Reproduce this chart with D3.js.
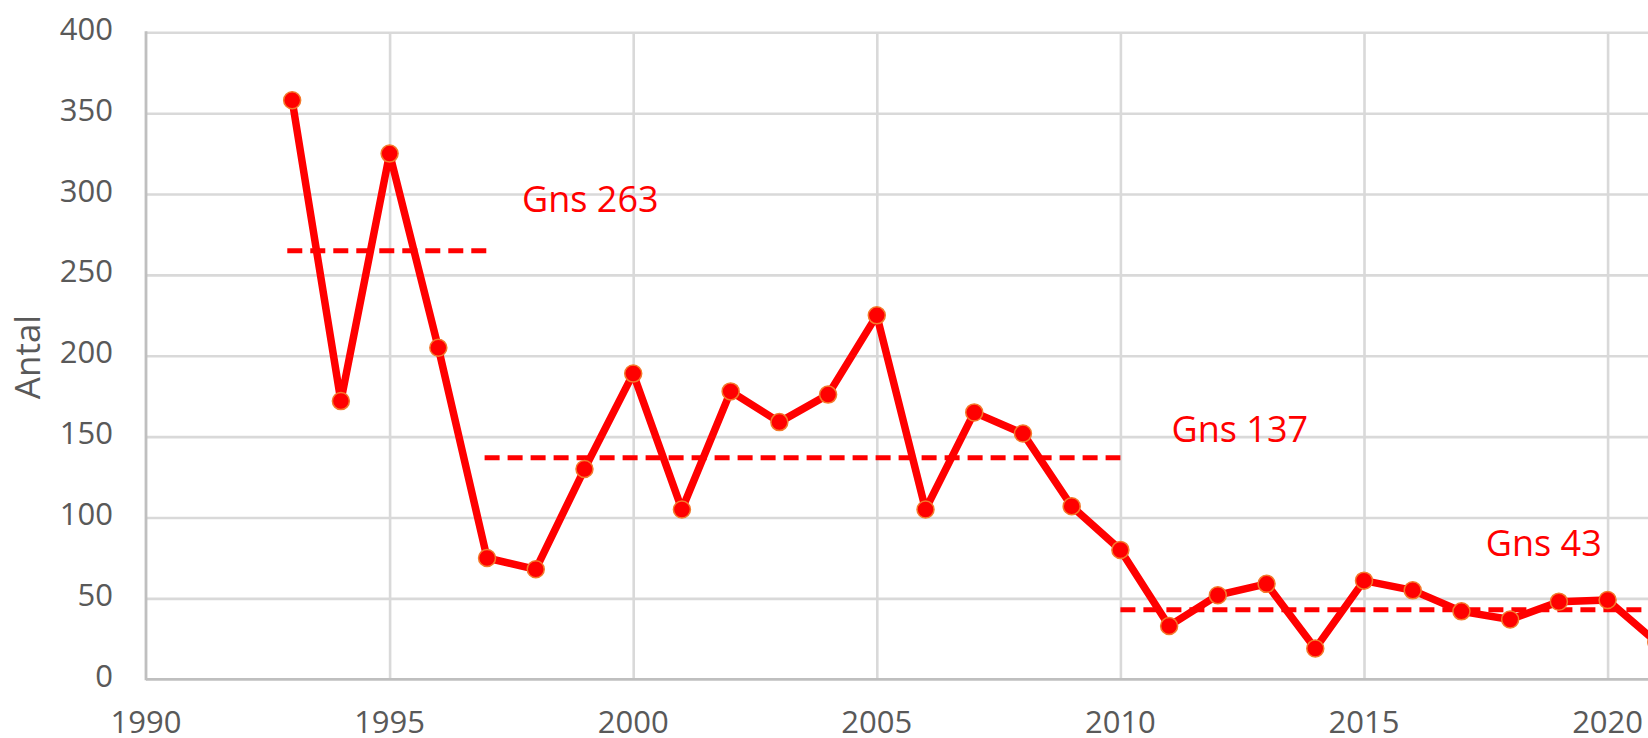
<!DOCTYPE html>
<html>
<head>
<meta charset="utf-8">
<script src="https://cdn.jsdelivr.net/npm/d3@7"></script>
<style>
  body { margin: 0; background: #fff; }
  svg { display: block; font-family: "Open Sans", sans-serif; }
</style>
</head>
<body>
<div id="chart"></div>
<script>
// values
var years = [1993, 1994, 1995, 1996, 1997, 1998, 1999, 2000, 2001, 2002, 2003, 2004, 2005, 2006,
  2007, 2008, 2009, 2010, 2011, 2012, 2013, 2014, 2015, 2016, 2017, 2018, 2019, 2020, 2021];
var antal = [358, 172, 325, 205, 75, 68, 130, 189, 105, 178, 159, 176, 225, 105,
  165, 152, 107, 80, 33, 52, 59, 19, 61, 55, 42, 37, 48, 49, 23];

// averages per period
var meanFrom = [1992.9, 1996.95, 2010];
var meanTo = [1997, 2010, 2025];
var meanValue = [265, 137, 43];
var meanText = ["Gns 263", "Gns 137", "Gns 43"];
// where the average labels sit (year, value of baseline)
var meanLabelYear = [1997.72, 2011.05, 2017.5];
var meanLabelValue = [289, 147, 76];

var xTicks = [1990, 1995, 2000, 2005, 2010, 2015, 2020, 2025];
var yTicks = [0, 50, 100, 150, 200, 250, 300, 350, 400];

const width = 1648, height = 738;
const plotLeft = 146, plotTop = 32.3, plotBottom = 679.3;
const perYear = 48.72;

const x = d3.scaleLinear().domain([1990, 2025]).range([plotLeft, plotLeft + 35 * perYear]);
const y = d3.scaleLinear().domain([0, 400]).range([plotBottom, plotTop]);

const svg = d3.select('#chart').append('svg')
  .attr('width', width)
  .attr('height', height);

// horizontal grid
svg.append('g')
  .attr('transform', `translate(${plotLeft},0)`)
  .call(d3.axisLeft(y).tickValues(yTicks.slice(1)).tickSize(-(x(2025) - plotLeft)).tickFormat(''))
  .call(g => g.select('.domain').remove())
  .selectAll('line').attr('stroke', '#d9d9d9').attr('stroke-width', 2.6);

// vertical grid
svg.append('g')
  .attr('transform', `translate(0,${plotBottom})`)
  .call(d3.axisBottom(x).tickValues(xTicks.slice(1)).tickSize(-(plotBottom - plotTop)).tickFormat(''))
  .call(g => g.select('.domain').remove())
  .selectAll('line').attr('stroke', '#d9d9d9').attr('stroke-width', 2.6);

// axis lines
svg.append('line')
  .attr('x1', plotLeft).attr('x2', plotLeft).attr('y1', plotTop - 1).attr('y2', plotBottom + 1)
  .attr('stroke', '#bfbfbf').attr('stroke-width', 2.8);
svg.append('line')
  .attr('x1', plotLeft).attr('x2', width).attr('y1', plotBottom).attr('y2', plotBottom)
  .attr('stroke', '#bfbfbf').attr('stroke-width', 2.8);

// tick labels
svg.append('g').selectAll('text')
  .data(yTicks).enter().append('text')
  .attr('x', 113)
  .attr('y', d => y(d) + 7.5)
  .attr('text-anchor', 'end')
  .attr('font-size', 31)
  .attr('fill', '#595959')
  .text(d => d);

svg.append('g').selectAll('text')
  .data(xTicks).enter().append('text')
  .attr('x', d => x(d))
  .attr('y', 733)
  .attr('text-anchor', 'middle')
  .attr('font-size', 31)
  .attr('fill', '#595959')
  .text(d => d);

svg.append('text')
  .attr('transform', `translate(40,357) rotate(-90)`)
  .attr('text-anchor', 'middle')
  .attr('font-size', 35)
  .attr('fill', '#595959')
  .text('Antal');

// average lines
svg.append('g').selectAll('line')
  .data(meanValue).enter().append('line')
  .attr('x1', (d, i) => x(meanFrom[i]))
  .attr('x2', (d, i) => x(meanTo[i]))
  .attr('y1', d => y(d))
  .attr('y2', d => y(d))
  .attr('stroke', '#ff0000')
  .attr('stroke-width', 5)
  .attr('stroke-dasharray', '15,8');

svg.append('g').selectAll('text')
  .data(meanText).enter().append('text')
  .attr('x', (d, i) => x(meanLabelYear[i]))
  .attr('y', (d, i) => y(meanLabelValue[i]))
  .attr('font-size', 36)
  .attr('fill', '#ff0000')
  .text(d => d);

// the series
const line = d3.line()
  .x((d, i) => x(years[i]))
  .y(d => y(d));

svg.append('path')
  .datum(antal)
  .attr('d', line)
  .attr('fill', 'none')
  .attr('stroke', '#ff0000')
  .attr('stroke-width', 7.5)
  .attr('stroke-linejoin', 'round');

svg.append('g').selectAll('circle')
  .data(antal).enter().append('circle')
  .attr('cx', (d, i) => x(years[i]))
  .attr('cy', d => y(d))
  .attr('r', 8.5)
  .attr('fill', '#ff0000')
  .attr('stroke', '#f47a2c')
  .attr('stroke-width', 1.5);
</script>
</body>
</html>
